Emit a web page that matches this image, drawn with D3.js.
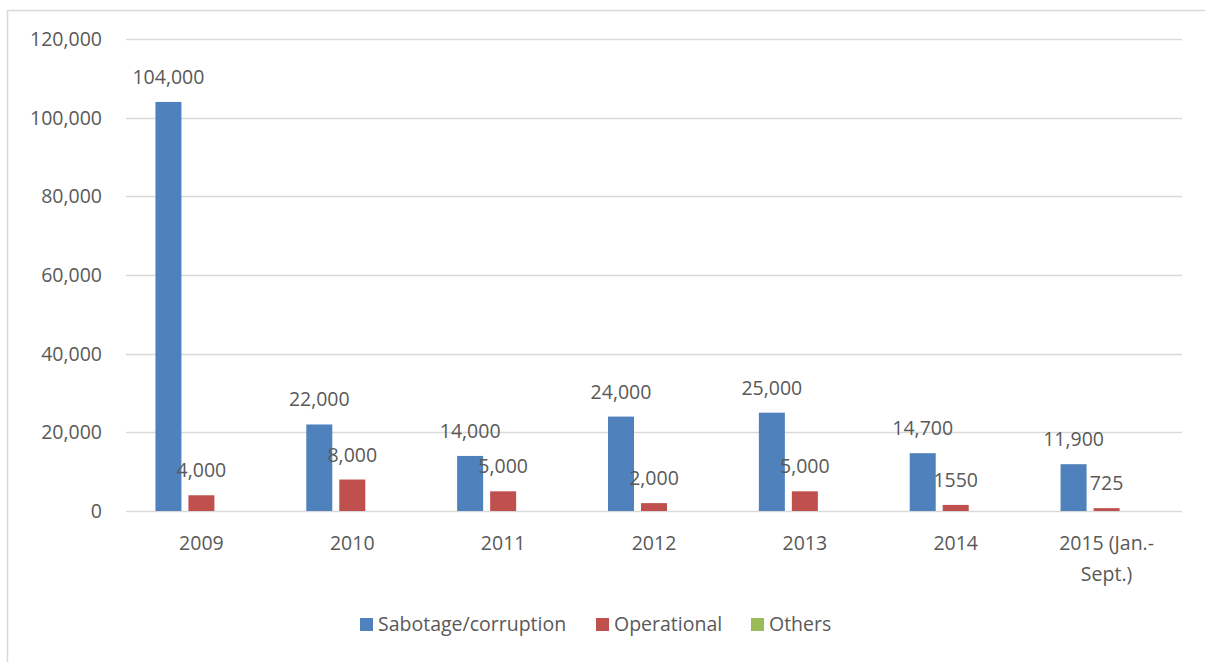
<!DOCTYPE html>
<html>
<head>
<meta charset="utf-8">
<script src="https://cdn.jsdelivr.net/npm/d3@7"></script>
<style>
  body { margin: 0; background: #fff; }
  text { font-family: "Open Sans", "Noto Sans", sans-serif; fill: #595959; }
</style>
</head>
<body>
<div id="chart"></div>
<script>
// chart data
const years = ["2009", "2010", "2011", "2012", "2013", "2014", "2015 (Jan.-\nSept.)"];
const sabotage = [104000, 22000, 14000, 24000, 25000, 14700, 11900];
const operational = [4000, 8000, 5000, 2000, 5000, 1550, 725];
const others = [0, 0, 0, 0, 0, 0, 0];
const sabotageLabels = ["104,000", "22,000", "14,000", "24,000", "25,000", "14,700", "11,900"];
const operationalLabels = ["4,000", "8,000", "5,000", "2,000", "5,000", "1550", "725"];
const yTicks = [0, 20000, 40000, 60000, 80000, 100000, 120000];
const seriesNames = ["Sabotage/corruption", "Operational", "Others"];
const colors = ["#4F81BD", "#C0504D", "#9BBB59"];

const width = 1205, height = 662;
const plot = { left: 126, right: 1182, top: 39, bottom: 511 };

const svg = d3.select("#chart").append("svg")
  .attr("width", width)
  .attr("height", height);

// outer chart frame (only top & left edges visible)
svg.append("rect")
  .attr("x", 7.5).attr("y", 10.5)
  .attr("width", 1300).attr("height", 700)
  .attr("fill", "none")
  .attr("stroke", "#d9d9d9")
  .attr("stroke-width", 1.5);

const x = d3.scaleBand()
  .domain(years)
  .range([plot.left, plot.right]);

const y = d3.scaleLinear()
  .domain([0, 120000])
  .range([plot.bottom, plot.top]);

const series = [sabotage, operational, others];
const labels = [sabotageLabels, operationalLabels, null];

const barW = 26, barGap = 7;
const groupW = barW * 3 + barGap * 2;
const xOffset = (s) => (x.bandwidth() - groupW) / 2 + s * (barW + barGap);

// gridlines
svg.append("g")
  .selectAll("line")
  .data(yTicks)
  .enter()
  .append("line")
  .attr("x1", plot.left)
  .attr("x2", plot.right)
  .attr("y1", (d) => Math.round(y(d)) + 0.5)
  .attr("y2", (d) => Math.round(y(d)) + 0.5)
  .attr("stroke", "#d9d9d9")
  .attr("stroke-width", 1.3);

// y-axis labels
svg.append("g")
  .selectAll("text")
  .data(yTicks)
  .enter()
  .append("text")
  .attr("x", 102)
  .attr("y", (d) => y(d) + 7)
  .attr("text-anchor", "end")
  .style("font-size", "19.5px")
  .text((d) => d3.format(",")(d));

// bars
series.forEach((vals, s) => {
  svg.append("g")
    .selectAll("rect")
    .data(vals)
    .enter()
    .append("rect")
    .attr("x", (d, i) => x(years[i]) + xOffset(s))
    .attr("y", (d) => y(d))
    .attr("width", barW)
    .attr("height", (d) => y(0) - y(d))
    .attr("fill", colors[s]);

  if (labels[s]) {
    svg.append("g")
      .selectAll("text")
      .data(vals)
      .enter()
      .append("text")
      .attr("x", (d, i) => x(years[i]) + xOffset(s) + barW / 2)
      .attr("y", (d) => y(d) - 18)
      .attr("text-anchor", "middle")
      .style("font-size", "19.5px")
      .text((d, i) => labels[s][i]);
  }
});

// x-axis labels
const xl = svg.append("g")
  .selectAll("text")
  .data(years)
  .enter()
  .append("text")
  .attr("x", (d) => x(d) + x.bandwidth() / 2)
  .attr("y", 550)
  .attr("text-anchor", "middle")
  .style("font-size", "19.5px");

xl.selectAll("tspan")
  .data((d) => d.split("\n").map((t) => ({ t: t, cx: x(d) + x.bandwidth() / 2 })))
  .enter()
  .append("tspan")
  .attr("x", (d) => d.cx)
  .attr("dy", (d, i) => (i === 0 ? 0 : 31))
  .text((d) => d.t);

// legend
const legendX = [360, 596, 751];
const legend = svg.append("g")
  .selectAll("g")
  .data(seriesNames)
  .enter()
  .append("g")
  .attr("transform", (d, i) => `translate(${legendX[i]}, 618)`);

legend.append("rect")
  .attr("width", 13)
  .attr("height", 13)
  .attr("fill", (d, i) => colors[i]);

legend.append("text")
  .attr("x", 18)
  .attr("y", 13)
  .style("font-size", "19.5px")
  .text((d) => d);
</script>
</body>
</html>
